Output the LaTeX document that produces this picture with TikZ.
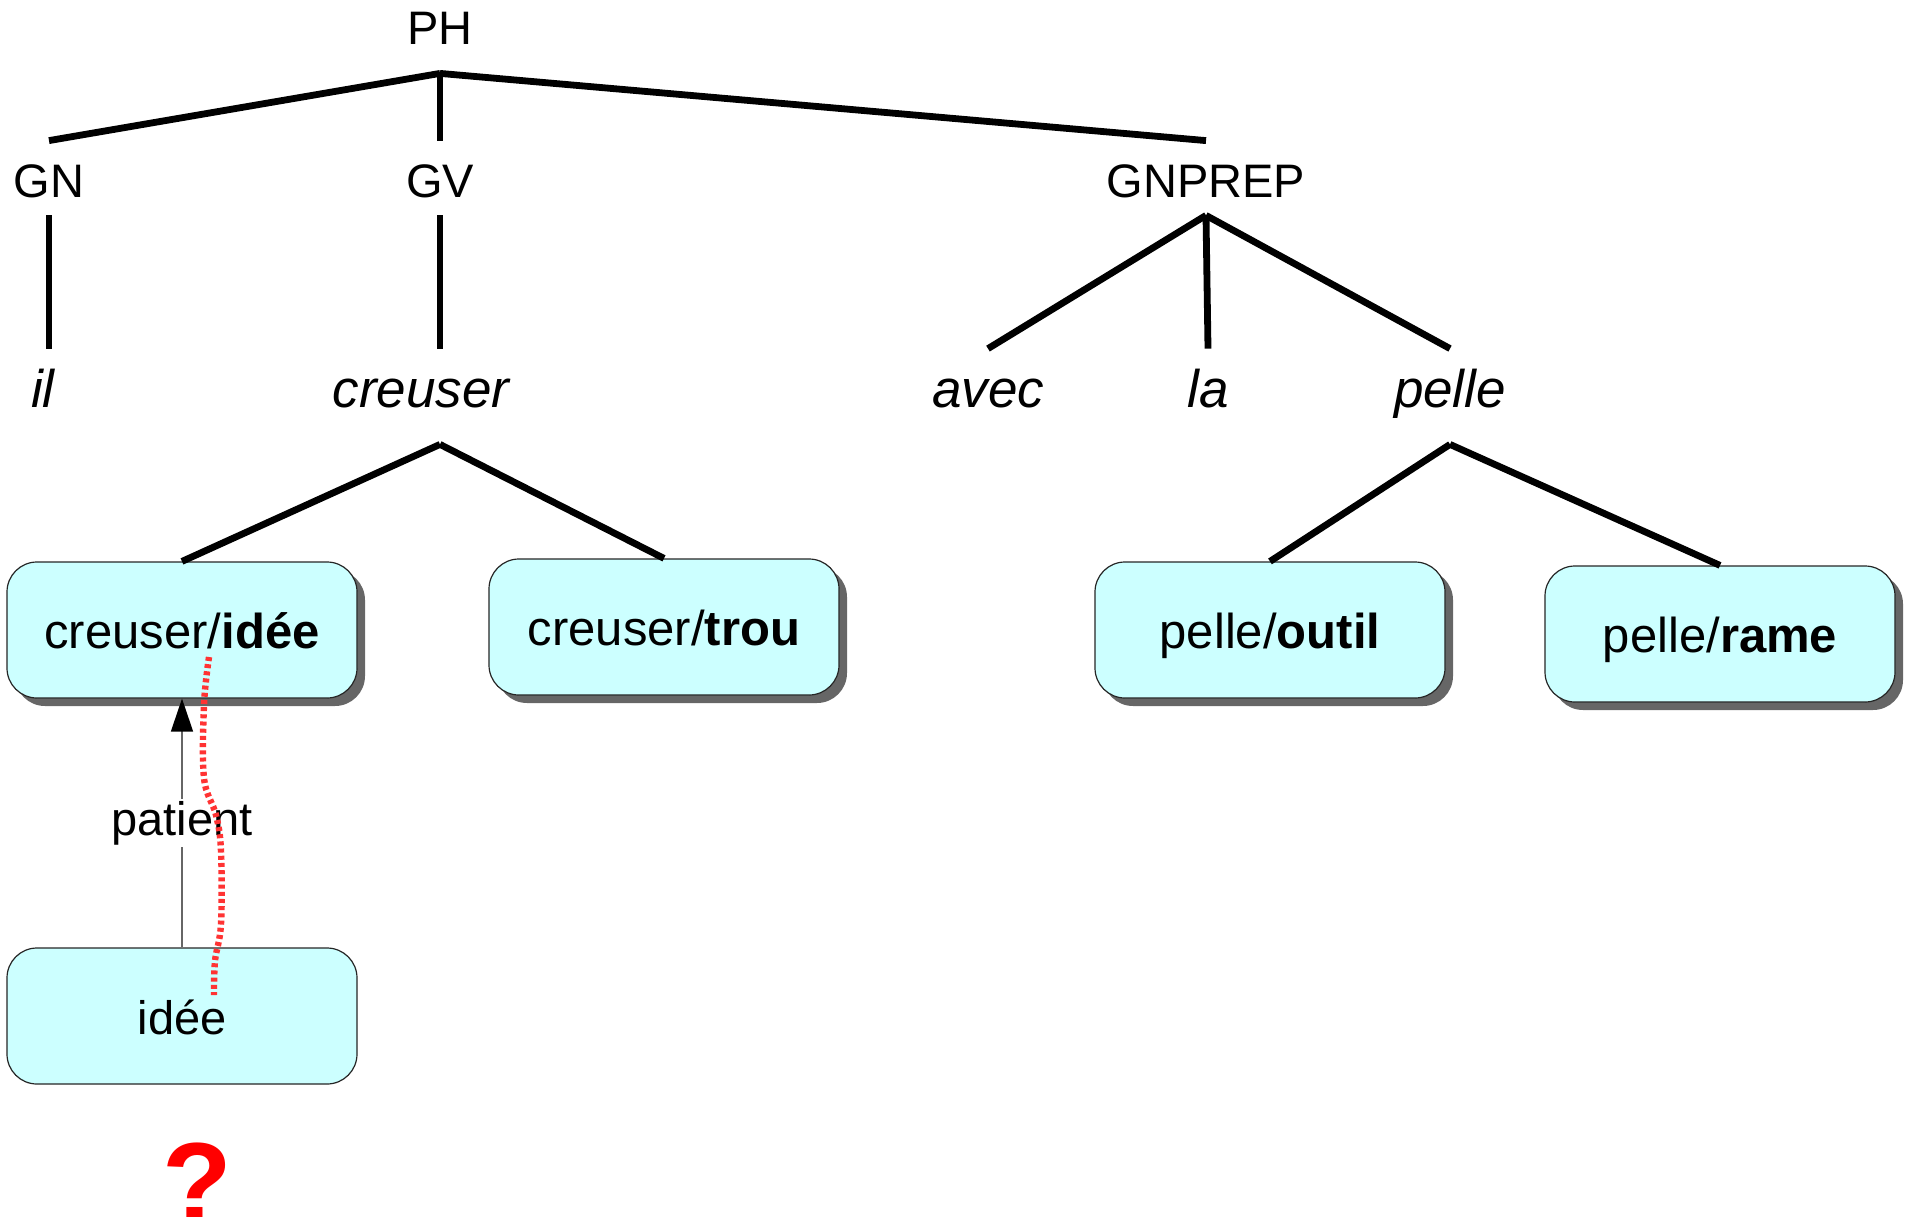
\documentclass[tikz,border=0pt]{standalone}
\usepackage{fontspec}
\setmainfont{Liberation Sans}
\usetikzlibrary{arrows.meta,shadows}

\definecolor{sensefill}{HTML}{CCFFFF}
\definecolor{trace}{HTML}{FF3333}

\tikzset{
  cat/.style={font=\fontsize{23.5}{28}\selectfont, inner sep=0pt, text height=28pt, text depth=9pt, anchor=base},
  word/.style={font=\fontsize{26.5}{32}\selectfont\itshape, inner sep=0pt, text height=29pt, text depth=18.5pt, anchor=base},
  branch/.style={line width=3.4pt},
  sense/.style={draw=black!85, line width=0.6pt, fill=sensefill, rounded corners=15pt,
    minimum width=175pt, minimum height=68pt, inner sep=0pt, text height=18pt, text depth=0pt,
    font=\fontsize{24.5}{30}\selectfont},
  shadowed/.style={drop shadow={shadow xshift=4pt, shadow yshift=-4pt, fill=black!60, opacity=1}},
}

\begin{document}
\begin{tikzpicture}[x=0.5pt,y=-0.5pt]
\useasboundingbox (0,0) rectangle (1907,1216);

% categories
\node[cat, text depth=14.5pt] (PH) at (440,44) {PH};
\node[cat] (GN) at (49,197) {GN};
\node[cat] (GV) at (440,197) {GV};
\node[cat] (GNPREP) at (1206,197) {GNPREP};

% words
\node[word] (il) at (43,407) {il};
\node[word] (creuser) at (421,407) {creuser};
\node[word] (avec) at (988,407) {avec};
\node[word] (la) at (1208,407) {la};
\node[word] (pelle) at (1450,407) {pelle};

% senses
\node[sense,shadowed] (cridee) at (182,630) {creuser/\textbf{idée}};
\node[sense,shadowed] (crtrou) at (664,627) {creuser/\textbf{trou}};
\node[sense,shadowed] (peoutil) at (1270,630) {pelle/\textbf{outil}};
\node[sense,shadowed] (perame) at (1720,634) {pelle/\textbf{rame}};
\node[sense, font=\fontsize{23.5}{28}\selectfont] (idee) at (182,1016) {idée};

% tree
\draw[branch] (PH.south) -- (GN.north);
\draw[branch] (PH.south) -- (GV.north);
\draw[branch] (PH.south) -- (GNPREP.north);
\draw[branch] (GN.south) -- (GN.south |- il.north);
\draw[branch] (GV.south) -- (GV.south |- creuser.north);
\draw[branch] (GNPREP.south) -- (avec.north);
\draw[branch] (GNPREP.south) -- (la.north);
\draw[branch] (GNPREP.south) -- (pelle.north);
\draw[branch] (creuser.south -| GV.south) -- (cridee.north);
\draw[branch] (creuser.south -| GV.south) -- (crtrou.north);
\draw[branch] (pelle.south) -- (peoutil.north);
\draw[branch] (pelle.south) -- (perame.north);

% relation
\draw[-{Triangle[length=16.5pt,width=11pt,black]}, draw=black!60, line width=0.75pt]
  (idee) -- node[fill=white, inner sep=1pt, font=\fontsize{23.5}{28}\selectfont] (patient) {patient} (cridee);

% trace
\draw[trace, line width=3.2pt, dash pattern=on 2pt off 1.6pt]
  plot[smooth, tension=0.6] coordinates {(209,657) (204,705) (204,778) (216,815) (221,851) (221,924) (215,961) (214,995)};

\node[font=\fontsize{57}{60}\selectfont\bfseries, text=red, anchor=base, inner sep=0pt] (doute) at (197,1222) {?};
\end{tikzpicture}
\end{document}
